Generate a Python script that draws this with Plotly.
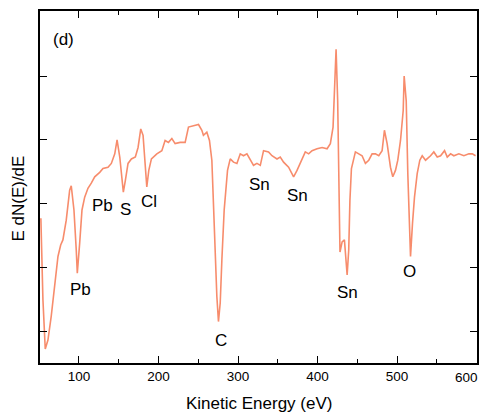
import plotly.graph_objects as go

# AES spectrum (arbitrary units)
energy = [52.1, 54.7, 57.6, 61.0, 65.1, 69.4, 73.6, 77.0, 79.8, 84.0, 88.3, 90.3,
          93.7, 96.6, 97.9, 100.9, 103.8, 107.2, 111.3, 115.5, 119.8, 126.1, 130.2,
          136.5, 140.7, 145.0, 147.9, 151.3, 154.2, 155.8, 158.3, 161.7, 165.9,
          170.9, 174.3, 177.7, 180.6, 182.7, 185.3, 187.8, 191.1, 197.9, 204.2,
          208.3, 212.5, 216.8, 220.9, 227.2, 233.5, 237.7, 244.0, 250.3, 254.5,
          256.5, 260.8, 264.1, 267.1, 269.1, 271.3, 273.4, 275.4, 277.6, 279.7,
          282.6, 286.8, 290.2, 294.3, 298.6, 302.8, 306.9, 311.2, 315.4, 319.5,
          323.8, 328.0, 332.1, 338.4, 342.7, 349.0, 353.1, 357.3, 363.6, 369.9,
          374.2, 380.5, 384.6, 388.8, 393.1, 399.4, 405.7, 412.0, 416.1, 419.5,
          421.5, 423.3, 425.3, 426.6, 427.5, 428.2, 430.9, 433.8, 437.2, 439.2,
          440.7, 442.6, 447.6, 451.8, 456.0, 460.2, 464.4, 468.6, 472.8, 477.0,
          481.2, 484.1, 487.5, 491.7, 494.6, 498.0, 500.9, 504.3, 507.7, 508.9,
          511.5, 513.5, 515.2, 516.9, 519.4, 521.9, 525.3, 528.6, 531.6, 535.8,
          542.1, 546.2, 550.5, 554.7, 559.7, 563.1, 567.3, 571.4, 577.7, 584.0,
          590.3, 594.6, 598.7]
signal = [-0.23, -1.51, -2.28, -2.14, -1.77, -1.30, -0.83, -0.65, -0.57, -0.26, 0.21, 0.28,
          -0.10, -0.73, -1.09, -0.62, -0.10, 0.10, 0.24, 0.32, 0.42, 0.49, 0.55,
          0.57, 0.63, 0.78, 1.00, 0.73, 0.31, 0.18, 0.36, 0.63, 0.70,
          0.73, 0.88, 1.17, 1.07, 0.63, 0.26, 0.52, 0.70, 0.78, 0.83,
          0.99, 0.96, 1.02, 0.94, 0.96, 0.96, 1.20, 1.22, 1.24, 1.15,
          1.07, 1.12, 0.99, 0.68, -0.10, -0.88, -1.46, -1.85, -1.56, -0.88,
          -0.10, 0.52, 0.70, 0.65, 0.63, 0.78, 0.75, 0.78, 0.68, 0.60,
          0.63, 0.60, 0.83, 0.81, 0.75, 0.70, 0.73, 0.65, 0.57, 0.42,
          0.52, 0.68, 0.81, 0.78, 0.83, 0.86, 0.88, 0.86, 0.94, 1.20,
          1.88, 2.42, 1.62, 0.67, -0.10, -0.76, -0.60, -0.57, -1.12, -0.73,
          0.05, 0.55, 0.81, 0.78, 0.75, 0.63, 0.68, 0.78, 0.78, 0.75,
          0.83, 1.15, 0.94, 0.57, 0.42, 0.52, 0.68, 0.99, 1.46, 2.00,
          1.61, 0.47, -0.31, -0.83, -0.31, 0.10, 0.47, 0.68, 0.75, 0.68,
          0.75, 0.81, 0.73, 0.75, 0.83, 0.73, 0.78, 0.75, 0.78, 0.75,
          0.78, 0.78, 0.75]

# element labels
peak_names = ["(d)", "Pb", "Pb", "S", "Cl", "C", "Sn", "Sn", "Sn", "O"]
peak_x = [81, 102.5, 130.2, 157.9, 188.2, 278.8, 326.7, 374.6, 437.5, 515.6]
peak_y = [2.57, -1.35, -0.03, -0.09, 0.04, -2.14, 0.30, 0.13, -1.39, -1.06]

x_ticks = [100, 200, 300, 400, 500, 600]
x_ticktext = ["100", "200", "300", "400", "500", ""]  # 600 drawn separately, kept inside the page

fig = go.Figure(go.Scatter(x=energy, y=signal, mode="lines",
                           line=dict(color="#F78C6C", width=1.6)))

for name, px, py in zip(peak_names, peak_x, peak_y):
    fig.add_annotation(x=px, y=py, text=name, showarrow=False,
                       xanchor="center", yanchor="middle",
                       font=dict(size=17, color="black"))

fig.add_annotation(x=x_ticks[-1], xref="x", yref="paper", y=-0.04,
                   xanchor="right", yanchor="middle", xshift=3,
                   text="600", showarrow=False,
                   font=dict(size=13.5, color="black"))
fig.add_annotation(xref="paper", yref="paper", x=0.5, y=-0.114,
                   xanchor="center", yanchor="middle",
                   text="Kinetic Energy (eV)", showarrow=False,
                   font=dict(size=17, color="black"))
fig.add_annotation(xref="paper", yref="paper", x=-0.049, y=0.466,
                   xanchor="center", yanchor="middle",
                   text="E dN(E)/dE", textangle=-90, showarrow=False,
                   font=dict(size=17, color="black"))

# page body adds an 8px offset, so the figure is 8px smaller
fig.update_layout(
    width=481, height=404,
    margin=dict(l=32, r=12, t=3, b=49, autoexpand=False),
    paper_bgcolor="white", plot_bgcolor="white",
    showlegend=False,
    font=dict(family="Arial, Liberation Sans, sans-serif", size=14, color="black"),
)
fig.update_xaxes(range=[51, 600.5], tickvals=x_ticks, ticktext=x_ticktext,
                 ticks="inside", ticklen=7, tickwidth=1.3, tickcolor="black",
                 minor=dict(tickvals=[150, 250, 350, 450, 550], ticks="inside",
                            ticklen=4, tickwidth=1.3, tickcolor="black"),
                 showline=True, linecolor="black", linewidth=1.6, mirror="allticks",
                 showgrid=False, zeroline=False, tickfont=dict(size=13.5),
                 ticklabeloverflow="allow", automargin=False)
fig.update_yaxes(range=[-2.5, 3.02], tickvals=[-2, -1, 0, 1, 2], showticklabels=False,
                 ticks="inside", ticklen=7, tickwidth=1.3, tickcolor="black",
                 showline=True, linecolor="black", linewidth=1.6, mirror="allticks",
                 showgrid=False, zeroline=False, automargin=False)

fig.write_html("out.html")
